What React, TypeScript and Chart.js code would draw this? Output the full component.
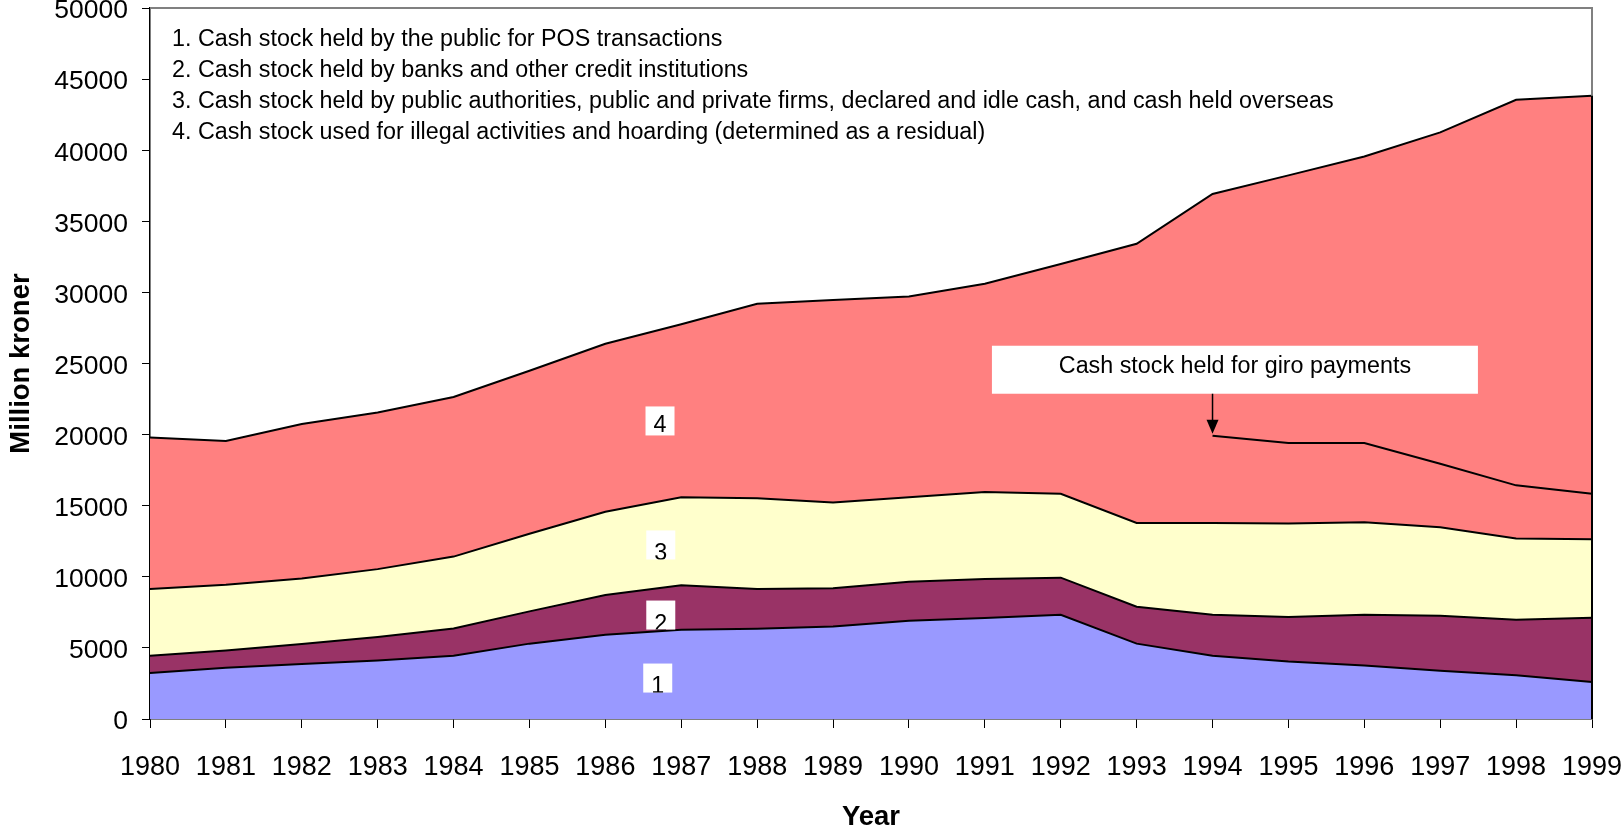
import { useEffect, useRef } from "react";
import { Chart, registerables } from "chart.js";

Chart.register(...registerables);

const years = [
  "1980", "1981", "1982", "1983", "1984", "1985", "1986", "1987", "1988", "1989",
  "1990", "1991", "1992", "1993", "1994", "1995", "1996", "1997", "1998", "1999",
];

// 1. Cash held by the public for POS transactions
const posTransactions = [3230, 3600, 3870, 4120, 4450, 5300, 5930, 6280, 6350, 6510, 6910, 7100, 7330, 5300, 4450, 4050, 3770, 3400, 3070, 2600];
// 2. Cash held by banks and other credit institutions
const banks = [1220, 1220, 1400, 1650, 1920, 2270, 2790, 3120, 2790, 2680, 2740, 2750, 2610, 2600, 2880, 3120, 3560, 3860, 3910, 4520];
// 3. Cash held by public authorities, firms, idle and overseas
const authorities = [4700, 4620, 4610, 4770, 5050, 5460, 5850, 6190, 6380, 6040, 5940, 6110, 5900, 5880, 6450, 6570, 6500, 6220, 5710, 5520];
// 4. Residual: illegal activities and hoarding
const residual = [10650, 10110, 10870, 11020, 11220, 11460, 11820, 12170, 13680, 14240, 14130, 14650, 16160, 19640, 23140, 24490, 25730, 27770, 30860, 31190];
// Cash held for giro payments (part of area 4, from 1994)
const giroPayments: (number | null)[] = [null, null, null, null, null, null, null, null, null, null, null, null, null, null, 6140, 5670, 5580, 4470, 3740, 3200];

const yTicks = { min: 0, max: 50000, step: 5000 };

const legendLines = [
  "1. Cash stock held by the public for POS transactions",
  "2. Cash stock held by banks and other credit institutions",
  "3. Cash stock held by public authorities, public and private firms, declared and idle cash, and cash held overseas",
  "4. Cash stock used for illegal activities and hoarding (determined as a residual)",
];

const areaLabels = [
  { text: "4", at: 6.72, value: 20960, inset: 3 },
  { text: "3", at: 6.73, value: 12240, inset: -1 },
  { text: "2", at: 6.73, value: 7310, inset: -1 },
  { text: "1", at: 6.69, value: 2880, inset: 0 },
];

const giroNote = "Cash stock held for giro payments";

const FONT = '"Liberation Sans", Arial, Helvetica, sans-serif';

// absolute level of the giro line = stack of series 1-3 + giro amount
const giroLine = giroPayments.map((g, i) =>
  g === null ? null : posTransactions[i] + banks[i] + authorities[i] + g
);
const totals = years.map((_, i) => posTransactions[i] + banks[i] + authorities[i] + residual[i]);

const overlayPlugin = {
  id: "overlay",
  afterDatasetsDraw(chart: any) {
    const { ctx, chartArea: ca, scales } = chart;
    const x = scales.x;
    const y = scales.y;
    ctx.save();

    // plot frame (top + right)
    ctx.lineWidth = 2;
    ctx.strokeStyle = "#808080";
    ctx.beginPath();
    ctx.moveTo(ca.left, ca.top);
    ctx.lineTo(ca.right, ca.top);
    ctx.lineTo(ca.right, ca.bottom);
    ctx.stroke();
    const lastTop = y.getPixelForValue(totals[totals.length - 1]);
    ctx.strokeStyle = "#000";
    ctx.lineWidth = 2;
    ctx.beginPath();
    ctx.moveTo(ca.right, lastTop);
    ctx.lineTo(ca.right, ca.bottom);
    ctx.stroke();

    // legend text block
    ctx.fillStyle = "#000";
    ctx.font = `23.3px ${FONT}`;
    ctx.textAlign = "left";
    ctx.textBaseline = "alphabetic";
    legendLines.forEach((t, i) => ctx.fillText(t, ca.left + 22, ca.top + 38 + i * 30.9));

    // numbered area labels
    ctx.textAlign = "center";
    areaLabels.forEach((l) => {
      const cx = x.getPixelForValue(l.at);
      const cy = y.getPixelForValue(l.value);
      const w = 29, h = 29;
      const bx = cx - w / 2, by = cy - h / 2;
      ctx.fillStyle = "#fff";
      ctx.fillRect(bx, by, w, h);
      ctx.save();
      ctx.beginPath();
      ctx.rect(bx, by, w, h);
      ctx.clip();
      ctx.fillStyle = "#000";
      ctx.fillText(l.text, cx, by + h - l.inset);
      ctx.restore();
    });

    // giro note box + arrow
    const gi = giroLine.findIndex((v) => v !== null);
    const ax = x.getPixelForValue(gi);
    const tipY = y.getPixelForValue(giroLine[gi] as number) - 2;
    const boxBottom = tipY - 40;
    const boxH = 48, boxW = 486;
    const boxLeft = ax - 220.6;
    ctx.fillStyle = "#fff";
    ctx.fillRect(boxLeft, boxBottom - boxH, boxW, boxH);
    ctx.fillStyle = "#000";
    ctx.textAlign = "center";
    ctx.fillText(giroNote, boxLeft + boxW / 2, boxBottom - boxH + 27);
    ctx.strokeStyle = "#000";
    ctx.lineWidth = 1.5;
    ctx.beginPath();
    ctx.moveTo(ax, boxBottom);
    ctx.lineTo(ax, tipY - 13);
    ctx.stroke();
    ctx.beginPath();
    ctx.moveTo(ax - 6, tipY - 14);
    ctx.lineTo(ax + 6, tipY - 14);
    ctx.lineTo(ax, tipY);
    ctx.closePath();
    ctx.fill();

    ctx.restore();
  },
};

export default function App() {
  const ref = useRef<HTMLCanvasElement>(null);

  useEffect(() => {
    if (!ref.current) return;
    Chart.defaults.font.family = FONT;
    const common = {
      borderColor: "#000",
      borderWidth: 2,
      pointRadius: 0,
      pointHoverRadius: 0,
      tension: 0,
    };
    const chart = new Chart(ref.current, {
      type: "line",
      data: {
        labels: years,
        datasets: [
          { ...common, label: "1", data: posTransactions, backgroundColor: "#9999FF", fill: "origin" },
          { ...common, label: "2", data: banks, backgroundColor: "#993366", fill: "-1" },
          { ...common, label: "3", data: authorities, backgroundColor: "#FFFFCC", fill: "-1" },
          { ...common, label: "4", data: residual, backgroundColor: "#FF8080", fill: "-1" },
          { ...common, label: "giro", data: giroLine, fill: false, stack: "giro", order: -1, spanGaps: false },
        ] as any,
      },
      options: {
        animation: false,
        responsive: true,
        maintainAspectRatio: false,
        layout: { padding: 0 },
        plugins: {
          legend: { display: false },
          tooltip: { enabled: false },
        },
        scales: {
          x: {
            type: "category",
            offset: false,
            grid: { display: true, drawOnChartArea: false, drawTicks: true, tickLength: 9, color: "#000", lineWidth: 1 },
            border: { display: true, color: "#000", width: 1.5 },
            ticks: { color: "#000", font: { size: 27 }, padding: 23, maxRotation: 0, autoSkip: false },
            title: { display: true, text: "Year", color: "#000", font: { size: 27.5, weight: "bold" }, padding: { top: 0, bottom: 0 } },
            afterFit: (s: any) => {
              s.height = 115;
              s.paddingLeft = 0;
              s.paddingRight = 32;
            },
          },
          y: {
            stacked: true,
            min: yTicks.min,
            max: yTicks.max,
            grid: { display: true, drawOnChartArea: false, drawTicks: true, tickLength: 8, color: "#000", lineWidth: 1 },
            border: { display: true, color: "#000", width: 1.5 },
            ticks: {
              stepSize: yTicks.step,
              color: "#000",
              font: { size: 26.5 },
              padding: 14,
              labelOffset: 3,
              callback: (v: any) => String(v),
            },
            title: { display: true, text: "Million kroner", color: "#000", font: { size: 27.5, weight: "bold" }, padding: { top: 5, bottom: 0 } },
            afterFit: (s: any) => {
              s.width = 150;
              s.paddingTop = 8;
              s.paddingBottom = 0;
            },
          },
        },
      } as any,
      plugins: [overlayPlugin],
    });
    return () => chart.destroy();
  }, []);

  return (
    <div style={{ position: "absolute", left: 0, top: 0, width: 1624, height: 834, background: "#fff" }}>
      <canvas ref={ref} />
    </div>
  );
}
